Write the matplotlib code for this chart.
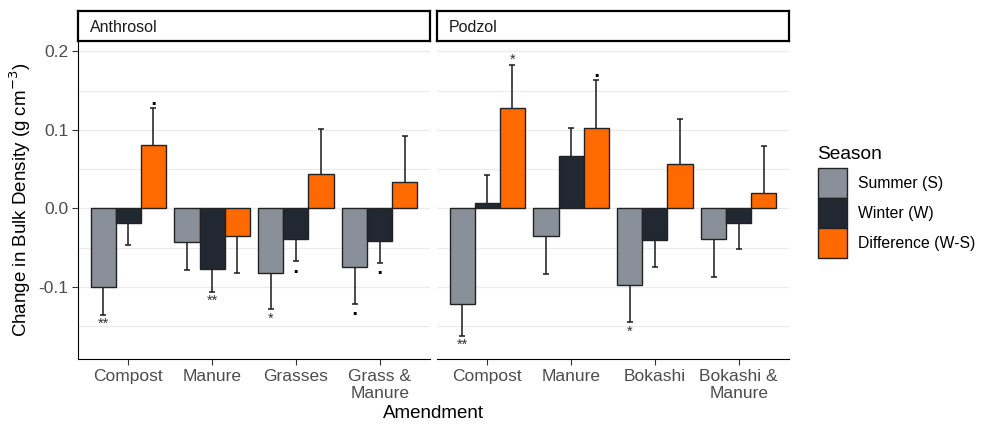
import numpy as np
import matplotlib.pyplot as plt
from matplotlib.patches import Patch
from matplotlib.ticker import MultipleLocator

plt.rcParams['font.family'] = ['Liberation Sans', 'DejaVu Sans']

# change in bulk density (g cm-3), mean and one-sided standard error
seasons = ['Summer (S)', 'Winter (W)', 'Difference (W-S)']
colors = ['#8a9099', '#222831', '#ff6a00']

anthro_cats = ['Compost', 'Manure', 'Grasses', 'Grass &\nManure']
anthro_mean = [[-0.0995, -0.0425, -0.082, -0.074],
               [-0.018, -0.077, -0.039, -0.041],
               [0.0805, -0.035, 0.044, 0.0334]]
anthro_se = [[0.036, 0.036, 0.046, 0.047],
             [0.029, 0.029, 0.028, 0.028],
             [0.047, 0.047, 0.057, 0.059]]
anthro_sig = [['**', '', '*', '.'],
              ['', '**', '.', '.'],
              ['.', '', '', '']]

podzol_cats = ['Compost', 'Manure', 'Bokashi', 'Bokashi &\nManure']
podzol_mean = [[-0.121, -0.035, -0.0975, -0.0387],
               [0.0064, 0.067, -0.040, -0.018],
               [0.128, 0.102, 0.057, 0.020]]
podzol_se = [[0.041, 0.049, 0.047, 0.049],
             [0.036, 0.035, 0.034, 0.034],
             [0.055, 0.061, 0.057, 0.060]]
podzol_sig = [['**', '', '*', ''],
              ['', '', '', ''],
              ['*', '.', '', '']]

yticks = [-0.1, 0.0, 0.1, 0.2]
ytick_labels = ['-0.1', '0.0', '0.1', '0.2']

W, H = 984, 424
fig = plt.figure(figsize=(W / 100, H / 100), dpi=100)

panels = [('Anthrosol', anthro_cats, anthro_mean, anthro_se, anthro_sig, 78),
          ('Podzol', podzol_cats, podzol_mean, podzol_se, podzol_sig, 437)]
pw = 352
top, bottom = 42, 359
width = 0.3
cap = 0.035

for i, (name, cats, means, ses, sigs, x0) in enumerate(panels):
    ax = fig.add_axes([x0 / W, 1 - bottom / H, pw / W, (bottom - top) / H])
    x = np.arange(len(cats))
    for s in range(3):
        m = np.array(means[s])
        e = np.array(ses[s])
        xs = x + (s - 1) * width
        # error bar only on the side away from zero
        ends = np.where(m < 0, m - e, m + e)
        ax.vlines(xs, m, ends, color='#1a1a1a', linewidth=1.1, zorder=2)
        ax.hlines(ends, xs - cap, xs + cap, color='#1a1a1a', linewidth=1.1, zorder=2)
        ax.bar(xs, m, width, color=colors[s], edgecolor='#222222',
               linewidth=1.0, zorder=3)
        for j in range(len(cats)):
            lab = sigs[s][j]
            if not lab:
                continue
            neg = m[j] < 0
            if lab == '.':
                yy = ends[j] - 0.0146 if neg else ends[j] + 0.0045
                ax.text(xs[j], yy, '.', ha='center', va='baseline', fontsize=12,
                        fontweight='bold', family='DejaVu Sans', color='black',
                        zorder=4)
            else:
                yy = ends[j] - 0.017 if neg else ends[j] + 0.001
                ax.text(xs[j], yy, lab, ha='center', va='baseline', fontsize=10.5,
                        color='#333333', zorder=4)

    ax.set_xlim(-0.6, len(cats) - 0.4)
    ax.set_ylim(-0.1916, 0.2118)
    ax.yaxis.set_minor_locator(MultipleLocator(0.05))
    ax.set_yticks(yticks)
    ax.grid(True, which='major', axis='y', color='#ebebeb', linewidth=1.0, zorder=0)
    ax.grid(True, which='minor', axis='y', color='#ebebeb', linewidth=0.8, zorder=0)
    ax.set_axisbelow(True)
    ax.set_xticks(x)
    ax.set_xticklabels(cats, fontsize=12.5, color='#4d4d4d', linespacing=1.2)
    ax.tick_params(axis='x', length=4, color='#333333', pad=3)
    ax.tick_params(axis='y', which='minor', length=0)
    for sp in ['top', 'right']:
        ax.spines[sp].set_visible(False)
    ax.spines['bottom'].set_color('black')
    if i == 0:
        ax.set_yticklabels(ytick_labels, fontsize=12.5, color='#4d4d4d')
        ax.tick_params(axis='y', which='major', length=4, color='#333333', pad=3)
        ax.spines['left'].set_color('black')
    else:
        ax.spines['left'].set_visible(False)
        ax.tick_params(axis='y', which='major', length=0, labelleft=False)

    # facet strip
    sax = fig.add_axes([x0 / W, 1 - 41 / H, pw / W, 30 / H])
    sax.set_xticks([])
    sax.set_yticks([])
    for sp in sax.spines.values():
        sp.set_linewidth(1.6)
        sp.set_color('black')
    sax.text(12 / pw, 0.45, name, transform=sax.transAxes, ha='left', va='center',
             fontsize=11.5, color='#1a1a1a')

fig.text(20 / W, 1 - 200 / H, 'Change in Bulk Density (g cm$^{-3}$)', rotation=90,
         ha='center', va='center', fontsize=13.5)
fig.text(433 / W, 1 - 414 / H, 'Amendment', ha='center', va='center', fontsize=13.5)

handles = [Patch(facecolor=c, edgecolor='#222222', linewidth=1.0) for c in colors]
leg = fig.legend(handles, seasons, title='Season', loc='upper left',
                 bbox_to_anchor=(805 / W, 1 - 133 / H), frameon=False,
                 fontsize=11.3, title_fontsize=13.8, handlelength=1.9,
                 handleheight=2.56, labelspacing=0.0, handletextpad=0.65,
                 alignment='left', borderpad=0.3)
# a little more room between the title and the keys
leg._legend_box.sep = 4

fig.savefig('out.png', dpi=100)
